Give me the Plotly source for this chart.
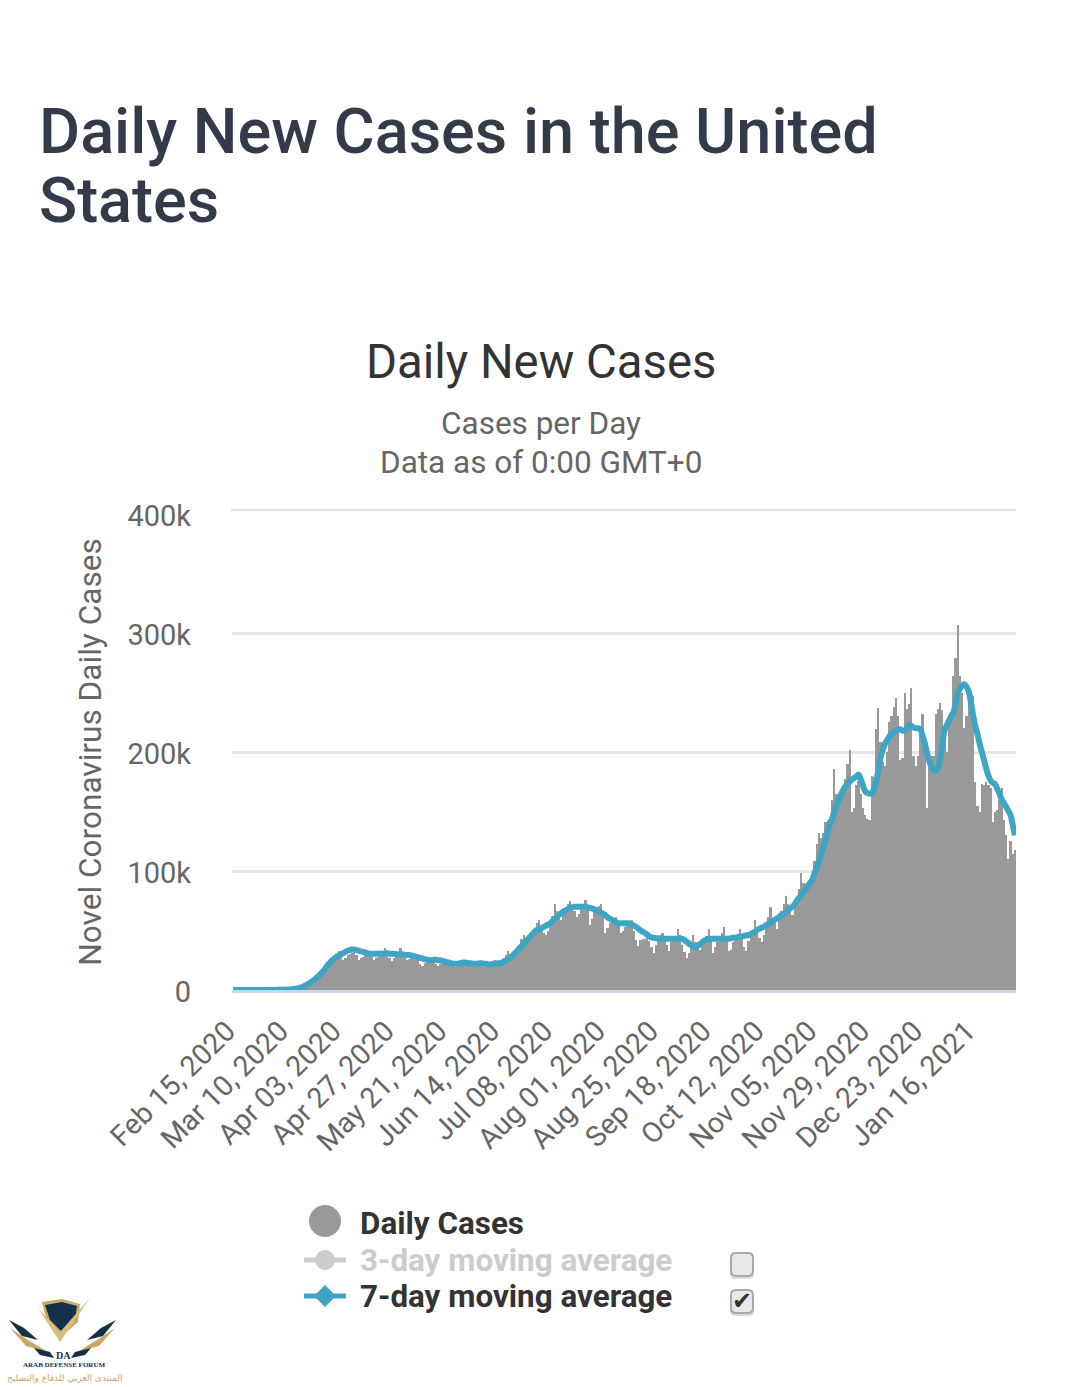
# plot.py

import pandas as pd
import plotly.graph_objects as go

W, H = 1079, 1387

tick_labels = ["Feb 15, 2020", "Mar 10, 2020", "Apr 03, 2020", "Apr 27, 2020", "May 21, 2020",
               "Jun 14, 2020", "Jul 08, 2020", "Aug 01, 2020", "Aug 25, 2020", "Sep 18, 2020",
               "Oct 12, 2020", "Nov 05, 2020", "Nov 29, 2020", "Dec 23, 2020", "Jan 16, 2021"]

# daily cases, thousands
daily_feb20 = [0, 0, 0, 0, 0, 0, 0, 0, 0, 0, 0, 0, 0, 0, 0]
daily_mar20 = [0, 0, 0, 0, 0, 0, 0.1, 0.1, 0.2, 0.3, 0.3, 0.4, 0.5, 0.7, 0.8, 1.2, 1.6, 2.5, 3.2, 4.5,
               5.5, 7, 8, 9.5, 11, 13, 15, 17, 20, 22, 24]
daily_apr20 = [27, 29, 33, 30, 25, 27, 29, 30, 31, 32, 29, 25, 27, 28, 29, 30, 29, 28, 25, 27,
               28, 29, 31, 35, 29, 27, 24, 27, 29, 30]
daily_may20 = [35, 29, 27, 25, 26, 27, 28, 29, 27, 22, 20, 23, 24, 26, 27, 26, 22, 20, 22, 22,
               24, 25, 24, 21, 20, 19, 20, 22, 24, 25, 22]
daily_jun20 = [21, 21, 21, 22, 24, 22, 20, 19, 20, 21, 23, 24, 25, 20, 21, 23, 27, 29, 33, 30,
               27, 31, 36, 38, 43, 46, 44, 41, 43, 48]
daily_jul20 = [52, 56, 59, 53, 48, 46, 50, 57, 62, 72, 66, 62, 59, 64, 67, 72, 75, 70, 66, 61,
               64, 68, 72, 76, 70, 55, 60, 66, 70, 71, 72]
daily_aug20 = [63, 48, 52, 56, 58, 59, 61, 54, 48, 50, 53, 55, 57, 59, 50, 42, 37, 42, 43, 43,
               44, 41, 36, 31, 38, 42, 46, 48, 43, 38, 33]
daily_sep20 = [40, 42, 44, 51, 46, 38, 32, 27, 31, 37, 46, 40, 36, 34, 38, 41, 45, 51, 42, 31,
               36, 40, 45, 48, 53, 44, 33, 34, 40, 43]
daily_oct20 = [44, 51, 43, 36, 33, 41, 45, 50, 59, 52, 44, 40, 46, 53, 61, 70, 60, 56, 51, 60,
               66, 72, 79, 72, 68, 63, 72, 78, 85, 98, 90]
daily_nov20 = [82, 85, 88, 92, 108, 123, 132, 128, 132, 141, 143, 140, 160, 186, 165, 160, 166, 172, 177, 190,
               202, 150, 153, 172, 176, 165, 153, 147, 144, 143]
daily_dec20 = [180, 179, 219, 237, 208, 192, 188, 200, 225, 230, 238, 245, 230, 193, 195, 250, 236, 240, 254, 197,
               188, 197, 215, 232, 200, 153, 190, 197, 197, 232, 236]
daily_jan21 = [241, 235, 210, 200, 225, 233, 264, 279, 307, 264, 250, 220, 230, 242, 248, 247, 175, 155, 150, 173,
               172, 175, 172, 170, 141, 150, 151, 160, 170, 143, 130]
daily_feb21 = [110, 125, 114, 118]

# 7-day moving average, thousands
avg_feb20 = [0, 0, 0, 0, 0, 0, 0, 0, 0, 0, 0, 0, 0, 0, 0]
avg_mar20 = [0, 0, 0.1, 0.1, 0.1, 0.1, 0.2, 0.2, 0.3, 0.3, 0.4, 0.5, 0.7, 0.9, 1.2, 1.5, 2.2, 3, 4, 5,
             6.3, 7.5, 8.8, 10.5, 12, 14, 16, 18.5, 21, 23, 25]
avg_apr20 = [26.5, 28, 29, 30, 31, 32, 33, 33.5, 34, 34, 33.5, 33, 32.5, 32, 31.5, 31, 30.5, 30.5, 30.5, 30.5,
             30.5, 30.5, 30.5, 31, 31, 30.5, 30.5, 30.5, 30, 30]
avg_may20 = [30, 30, 29.5, 29.5, 29.5, 29, 28.5, 28, 27.5, 27, 26.5, 26, 25.5, 25, 25, 25.5, 25.5, 25, 25, 24.5,
             24, 23.5, 23, 22.5, 22, 22, 22, 22.5, 23, 23, 23]
avg_jun20 = [22.5, 22.5, 22, 22, 22, 22.5, 22.5, 22, 22, 21.5, 21.5, 22, 22, 22.5, 22.5, 23, 24, 25, 26, 27,
             29, 31, 33, 35, 37, 39, 41, 43, 45, 47]
avg_jul20 = [49, 50.5, 51, 52, 53, 54, 55, 56, 58, 60, 61.5, 63, 64.5, 66, 67, 68, 69, 69.5, 70, 70,
             70, 70, 70, 70, 69.5, 69, 68.5, 68, 67, 66, 65]
avg_aug20 = [64, 63, 61, 60, 59, 58, 57, 56, 56, 56, 56, 56, 56, 55, 54, 53, 51.5, 50, 49, 48,
             46.5, 45, 44, 44, 43.5, 43.5, 43, 43, 43, 43, 43]
avg_sep20 = [43, 43, 43, 43, 43, 43, 42, 40.5, 39, 37.5, 36.5, 36, 37, 38.5, 40, 41.5, 42.5, 43, 43, 43,
             43, 43, 43, 43, 43, 43, 43, 43.5, 44, 44]
avg_oct20 = [44.5, 45, 45, 45.5, 46, 46, 47, 48, 49, 50.5, 51.5, 52.5, 53, 54.5, 55.5, 56.5, 58, 59, 60, 61.5,
             63, 64, 65.5, 67, 68.5, 70, 72, 75, 77.5, 80, 82.5]
avg_nov20 = [85, 87.5, 90, 93, 98, 103, 109, 114, 120, 126, 133, 139, 144, 150, 155, 160, 164, 168, 171, 173,
             175, 177, 178, 179.5, 181, 177, 172, 167, 165.5, 165]
avg_dec20 = [165, 169, 175, 185, 195, 202, 207, 210, 213, 215, 217, 218, 219, 219, 218, 218, 220, 223, 222, 220.5,
             220, 220, 219, 214, 208, 200, 193, 188, 185, 184, 186]
avg_jan21 = [194, 205, 218, 222, 226, 230, 233, 240, 249, 253, 256, 257, 255, 251, 242, 231, 222, 215, 207, 200,
             193, 186, 180, 176, 174, 173, 169, 165, 160, 157, 154]
avg_feb21 = [150.5, 147, 139, 130]

daily = (daily_feb20 + daily_mar20 + daily_apr20 + daily_may20 + daily_jun20 + daily_jul20 + daily_aug20
         + daily_sep20 + daily_oct20 + daily_nov20 + daily_dec20 + daily_jan21 + daily_feb21)
avg7 = (avg_feb20 + avg_mar20 + avg_apr20 + avg_may20 + avg_jun20 + avg_jul20 + avg_aug20
        + avg_sep20 + avg_oct20 + avg_nov20 + avg_dec20 + avg_jan21 + avg_feb21)
dates = pd.date_range("2020-02-15", periods=len(daily)).strftime("%b %d, %Y").tolist()

FONT = "Roboto"
GREY = "#999999"
BLUE = "#3fa5c4"


def fx(x):
    return x / W


def fy(y):
    return 1 - y / H


def text(s, x, y, size, color, anchor="center", weight=400, family=FONT):
    fig.add_annotation(text=s, x=fx(x), y=fy(y), xref="paper", yref="paper", showarrow=False,
                       xanchor=anchor, yanchor="middle", font=dict(family=family, size=size, color=color, weight=weight))


def poly(points, fill):
    p = "M " + " L ".join(f"{fx(a):.5f} {fy(b):.5f}" for a, b in points) + " Z"
    fig.add_shape(type="path", path=p, xref="paper", yref="paper", fillcolor=fill, line_width=0)


def dot(x, y, r, fill):
    fig.add_shape(type="circle", xref="paper", yref="paper", x0=fx(x - r), x1=fx(x + r), y0=fy(y + r), y1=fy(y - r),
                  fillcolor=fill, line_width=0)


def bar_line(x0, x1, y, color, width=5):
    fig.add_shape(type="line", xref="paper", yref="paper", x0=fx(x0), x1=fx(x1), y0=fy(y), y1=fy(y),
                  line=dict(color=color, width=width))


def rounded(x0, y0, x1, y1, r, fill, edge=None):
    p = (f"M {fx(x0 + r):.5f} {fy(y0):.5f} L {fx(x1 - r):.5f} {fy(y0):.5f} "
         f"Q {fx(x1):.5f} {fy(y0):.5f} {fx(x1):.5f} {fy(y0 + r):.5f} L {fx(x1):.5f} {fy(y1 - r):.5f} "
         f"Q {fx(x1):.5f} {fy(y1):.5f} {fx(x1 - r):.5f} {fy(y1):.5f} L {fx(x0 + r):.5f} {fy(y1):.5f} "
         f"Q {fx(x0):.5f} {fy(y1):.5f} {fx(x0):.5f} {fy(y1 - r):.5f} L {fx(x0):.5f} {fy(y0 + r):.5f} "
         f"Q {fx(x0):.5f} {fy(y0):.5f} {fx(x0 + r):.5f} {fy(y0):.5f} Z")
    fig.add_shape(type="path", path=p, xref="paper", yref="paper", fillcolor=fill,
                  line=dict(color=edge or fill, width=2 if edge else 0))


def checkbox(y0, y1):
    rounded(730, y0 + 3, 754, y1 + 3, 5, "#dddddd")
    rounded(731, y0, 753, y1, 5, "#e8e8e8", "#a8a8a8")


fig = go.Figure()
fig.add_trace(go.Bar(x=dates, y=[v * 1000 for v in daily], marker=dict(color=GREY, line_width=0), name="Daily Cases"))
fig.add_trace(go.Scatter(x=dates, y=[v * 1000 for v in avg7], mode="lines", name="7-day moving average",
                         line=dict(color=BLUE, width=6, shape="spline")))

fig.update_layout(
    width=W, height=H, margin=dict(l=0, r=0, t=0, b=0), autosize=False,
    paper_bgcolor="white", plot_bgcolor="white", showlegend=False, bargap=0,
    font=dict(family=FONT, color="#666666"),
    xaxis=dict(domain=[fx(232), fx(1016)], type="category", range=[-0.5, len(dates) - 0.5],
               tickmode="array", tickvals=tick_labels, tickangle=-45, ticks="", showgrid=False,
               tickfont=dict(size=28.5, color="#666666"), showline=True, linecolor="#ccd6eb", linewidth=3,
               ticklabelstandoff=10, ticklabelshift=-6, automargin=False),
    yaxis=dict(domain=[fy(990), fy(514)], range=[0, 400000], tickvals=[0, 100000, 200000, 300000, 400000],
               ticktext=["0", "100k", "200k", "300k", "400k"], tickfont=dict(size=29, color="#666666"),
               gridcolor="#e6e6e6", gridwidth=2.5, zeroline=False, ticklabelstandoff=40, ticklabelshift=2,
               automargin=False,
               title=dict(text="Novel Coronavirus Daily Cases", font=dict(size=31.6, color="#666666"), standoff=16)),
)

# top rule of the plot sits a little above the 400k label
bar_line(231, 1016, 510, "#e6e6e6", 2.5)

# page and chart headings
text("Daily New Cases in the United", 37, 131, 63, "#333a4a", "left", 500)
text("States", 37, 200, 63, "#333a4a", "left", 500)
text("Daily New Cases", 540.5, 362, 47.3, "#333333")
text("Cases per Day", 540.5, 423, 31.5, "#666666")
text("Data as of 0:00 GMT+0", 540.5, 462, 31.5, "#666666")

# legend
dot(325, 1221, 16, GREY)
text("Daily Cases", 358, 1223, 31.4, "#333333", "left", 700)
bar_line(304, 346, 1260, "#cccccc")
dot(325, 1260, 10, "#cccccc")
text("3-day moving average", 358, 1260, 31.4, "#cccccc", "left", 700)
bar_line(304, 346, 1296, BLUE)
poly([(325, 1285), (336, 1296), (325, 1307), (314, 1296)], BLUE)
text("7-day moving average", 358, 1296, 31.4, "#333333", "left", 700)
checkbox(1253, 1276)
checkbox(1290, 1313)
text("✔", 742, 1301, 24, "#333333", family="DejaVu Sans")

# watermark
poly([(42, 1302), (62, 1299), (80, 1304), (78, 1322), (62, 1336), (47, 1322)], "#c9a866")
poly([(45, 1305), (62, 1302), (77, 1306), (75, 1320), (62, 1332), (50, 1320)], "#14304a")
poly([(38, 1308), (60, 1342), (90, 1298), (60, 1332)], "#d9bd7c")
poly([(9, 1320), (24, 1328), (38, 1340), (22, 1336)], "#14304a")
poly([(116, 1320), (101, 1328), (87, 1340), (103, 1336)], "#14304a")
poly([(10, 1328), (28, 1340), (48, 1352), (26, 1346)], "#c9a866")
poly([(115, 1328), (97, 1340), (77, 1352), (99, 1346)], "#c9a866")
poly([(34, 1348), (50, 1352), (54, 1358), (40, 1355)], "#14304a")
poly([(91, 1348), (75, 1352), (71, 1358), (85, 1355)], "#14304a")
text("DA", 63, 1355, 10, "#14304a", weight=700, family="Liberation Serif")
text("ARAB DEFENSE FORUM", 64, 1365, 7, "#14304a", weight=700, family="Liberation Serif")
text("المنتدى العربي للدفاع والتسليح", 64, 1378, 9, "#c9a866", family="DejaVu Sans")

fig.write_html("out.html", config={"displayModeBar": False}, post_script="document.body.style.margin='0';")
